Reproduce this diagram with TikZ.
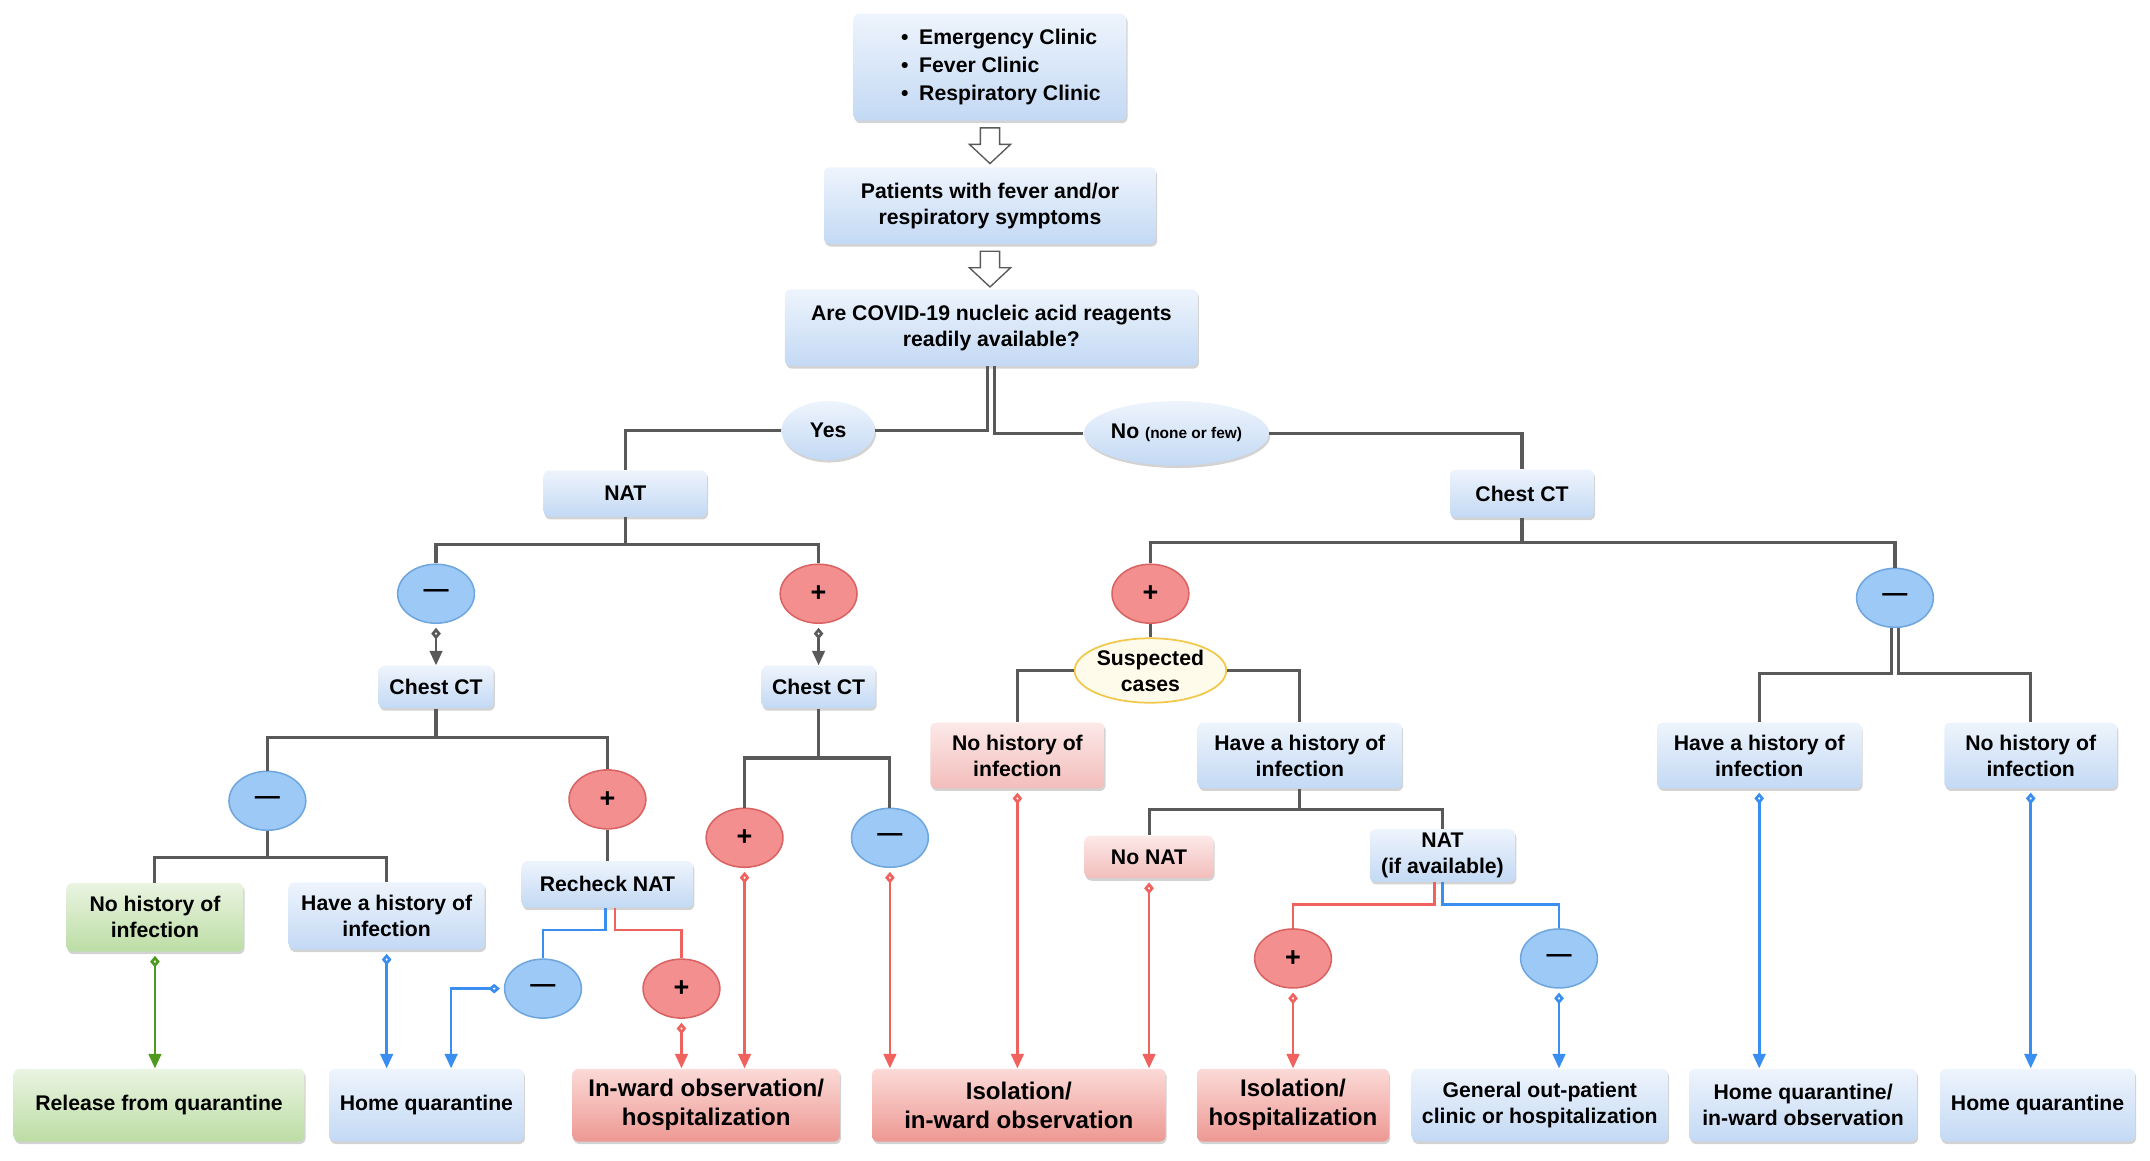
\documentclass[tikz,border=0pt]{standalone}
\usepackage{fontspec}
\setmainfont{Liberation Sans}
\usetikzlibrary{shapes.geometric}
\usetikzlibrary{shadows}
\usetikzlibrary{calc}
\usetikzlibrary{positioning, arrows.meta}

\definecolor{linegray}{HTML}{595959}
\definecolor{bluetop}{HTML}{EEF4FC}
\definecolor{bluemid}{HTML}{D3E3F7}
\definecolor{bluebot}{HTML}{C3D9F4}
\definecolor{redtop}{HTML}{FCE9E8}
\definecolor{redmid}{HTML}{F7D2D0}
\definecolor{redbot}{HTML}{F2BDBB}
\definecolor{darkredtop}{HTML}{FBDAD7}
\definecolor{darkredmid}{HTML}{F2A6A1}
\definecolor{darkredbot}{HTML}{ED9893}
\definecolor{greentop}{HTML}{EAF4E2}
\definecolor{greenmid}{HTML}{CDE6BC}
\definecolor{greenbot}{HTML}{BCDDA4}
\definecolor{negfill}{HTML}{9DC9F7}
\definecolor{negdraw}{HTML}{6FA6DD}
\definecolor{posfill}{HTML}{F48F8F}
\definecolor{posdraw}{HTML}{D96262}
\definecolor{suspfill}{HTML}{FFFBEA}
\definecolor{suspdraw}{HTML}{F2C84B}
\definecolor{arrowblue}{HTML}{3A8EEF}
\definecolor{arrowred}{HTML}{F0625E}
\definecolor{arrowgreen}{HTML}{4E9A1E}

\begin{document}
\begin{tikzpicture}[x=0.025cm, y=-0.025cm, font=\fontsize{11}{13.5}\selectfont\bfseries]
        % Define styles for shapes
        \tikzstyle{box} = [rounded corners=3pt, align=center, inner sep=2pt, drop shadow={shadow xshift=0.6pt, shadow yshift=-1.3pt, opacity=0.35}]
        \tikzstyle{bluebox} = [box, top color=bluetop, middle color=bluemid, bottom color=bluebot]
        \tikzstyle{redbox} = [box, top color=redtop, middle color=redmid, bottom color=redbot]
        \tikzstyle{darkredbox} = [box, top color=darkredtop, middle color=darkredmid, bottom color=darkredbot, font=\fontsize{12.5}{15}\selectfont\bfseries]
        \tikzstyle{greenbox} = [box, top color=greentop, middle color=greenmid, bottom color=greenbot]
        \tikzstyle{endbox} = [minimum height=1.325cm]
        \tikzstyle{answer} = [ellipse, inner sep=0pt, top color=bluetop, bottom color=bluebot, drop shadow={shadow xshift=0.6pt, shadow yshift=-1.3pt, opacity=0.35}]
        \tikzstyle{posnode} = [ellipse, draw=posdraw, fill=posfill, line width=0.8pt, minimum width=1.4cm, minimum height=1.075cm, inner sep=0pt, font=\fontsize{14}{14}\selectfont\bfseries]
        \tikzstyle{negnode} = [ellipse, draw=negdraw, fill=negfill, line width=0.8pt, minimum width=1.4cm, minimum height=1.075cm, inner sep=0pt, font=\fontsize{13}{13}\selectfont\bfseries]
        \tikzstyle{hollow} = [draw=linegray, fill=white, line width=0.7pt, line join=miter]
        \tikzstyle{elbow} = [draw=linegray, line width=1.6pt]
        \tikzstyle{blueline} = [draw=arrowblue, line width=1.4pt]
        \tikzstyle{redline} = [draw=arrowred, line width=1.4pt]
        \tikzstyle{flow} = [line width=1.4pt, shorten <=2pt, arrows={Diamond[open,length=6pt,width=5pt]-Triangle[length=7.5pt,width=6.5pt]}]
        \tikzstyle{grayarrow} = [flow, draw=linegray]
        \tikzstyle{bluearrow} = [flow, draw=arrowblue]
        \tikzstyle{redarrow} = [flow, draw=arrowred]
        \tikzstyle{greenarrow} = [flow, draw=arrowgreen]

        \useasboundingbox (0, 0) rectangle (1568, 846);

        % Draw shapes
        \node[bluebox, minimum width=4.975cm, minimum height=1.95cm, align=left, font=\fontsize{11}{14.5}\selectfont\bfseries] (clinic) at (722, 49) {\hspace*{0.4cm}\textbullet\enspace Emergency Clinic\\ \hspace*{0.4cm}\textbullet\enspace Fever Clinic\\ \hspace*{0.4cm}\textbullet\enspace Respiratory Clinic};
        \node[bluebox, minimum width=6.05cm, minimum height=1.4cm] (patients) at (722, 150) {Patients with fever and/or\\ respiratory symptoms};
        \node[bluebox, minimum width=7.525cm, minimum height=1.4cm] (reagents) at (723, 239) {Are COVID-19 nucleic acid reagents\\ readily available?};

        % hollow arrows between the first boxes
        \draw[hollow] ($(clinic.south)+(-7, 5)$) -- ++(14, 0) -- ++(0, 12) -- ++(8, 0) -- ++(-15, 14) -- ++(-15, -14) -- ++(8, 0) -- cycle;
        \draw[hollow] ($(patients.south)+(-7, 5)$) -- ++(14, 0) -- ++(0, 12) -- ++(8, 0) -- ++(-15, 14) -- ++(-15, -14) -- ++(8, 0) -- cycle;

        \node[answer, minimum width=1.7cm, minimum height=1.075cm] (yes) at (604, 314) {Yes};
        \node[answer, minimum width=2.85cm, minimum height=1.175cm] (no) at (858, 316) {No {\fontsize{8}{9}\selectfont (none or few)}};

        \node[bluebox, minimum width=2.975cm, minimum height=0.85cm] (nat) at (456, 360) {NAT};
        \node[bluebox, minimum width=2.625cm, minimum height=0.875cm] (ctR) at (1110, 360) {Chest CT};

        % NAT branch
        \node[negnode] (natneg) at (318, 433) {---};
        \node[posnode] (natpos) at (597, 433) {+};
        \node[bluebox, minimum width=2.1cm, minimum height=0.775cm] (ctL) at (318, 501) {Chest CT};
        \node[bluebox, minimum width=2.075cm, minimum height=0.775cm] (ctM) at (597, 501) {Chest CT};

        \node[negnode] (ctLneg) at (195, 584) {---};
        \node[posnode] (ctLpos) at (443, 583) {+};
        \node[greenbox, minimum width=3.225cm, minimum height=1.25cm] (nhL) at (113, 669) {No history of\\ infection};
        \node[bluebox, minimum width=3.575cm, minimum height=1.225cm] (hhL) at (282, 668) {Have a history of\\ infection};
        \node[bluebox, minimum width=3.125cm, minimum height=0.85cm] (recheck) at (443, 645) {Recheck NAT};
        \node[negnode] (rnneg) at (396, 721) {---};
        \node[posnode] (rnpos) at (497, 721) {+};

        \node[posnode] (ctMpos) at (543, 611) {+};
        \node[negnode] (ctMneg) at (649, 611) {---};

        % Chest CT branch
        \node[posnode] (ctRpos) at (839, 433) {+};
        \node[negnode] (ctRneg) at (1382, 436) {---};
        \node[ellipse, draw=suspdraw, fill=suspfill, line width=0.9pt, minimum width=2.625cm, minimum height=1.175cm, inner sep=0pt, align=center] (susp) at (839, 489) {Suspected\\ cases};
        \node[redbox, minimum width=3.175cm, minimum height=1.2cm] (nhM) at (742, 551) {No history of\\ infection};
        \node[bluebox, minimum width=3.725cm, minimum height=1.2cm] (hhM) at (948, 551) {Have a history of\\ infection};
        \node[redbox, minimum width=2.35cm, minimum height=0.775cm] (nonat) at (838, 625) {No NAT};
        \node[bluebox, minimum width=2.65cm, minimum height=0.95cm] (natif) at (1052, 624) {NAT\\ (if available)};
        \node[posnode] (natifpos) at (943, 699) {+};
        \node[negnode] (natifneg) at (1137, 699) {---};
        \node[bluebox, minimum width=3.725cm, minimum height=1.2cm] (hhR) at (1283, 551) {Have a history of\\ infection};
        \node[bluebox, minimum width=3.15cm, minimum height=1.2cm] (nhR) at (1481, 551) {No history of\\ infection};

        % Outcomes
        \node[greenbox, endbox, minimum width=5.3cm] (release) at (116, 806) {Release from quarantine};
        \node[bluebox, endbox, minimum width=3.55cm] (homeL) at (311, 806) {Home quarantine};
        \node[darkredbox, endbox, minimum width=4.875cm] (inward) at (515, 806) {In-ward observation/\\ hospitalization};
        \node[darkredbox, endbox, minimum width=5.35cm] (isoward) at (743, 806) {Isolation/\\ in-ward observation};
        \node[darkredbox, endbox, minimum width=3.5cm] (isohosp) at (943, 806) {Isolation/\\ hospitalization};
        \node[bluebox, endbox, minimum width=4.675cm] (general) at (1123, 806) {General out-patient\\ clinic or hospitalization};
        \node[bluebox, endbox, minimum width=4.15cm] (homeward) at (1315, 806) {Home quarantine/\\ in-ward observation};
        \node[bluebox, endbox, minimum width=3.55cm] (homeR) at (1486, 806) {Home quarantine};

        % Draw arrows
        \draw[elbow] ([xshift=-1.8pt]reagents.south) |- (yes.east);
        \draw[elbow] (yes.west) -| (nat.north);
        \draw[elbow] ([xshift=1.8pt]reagents.south) |- (no.west);
        \draw[elbow] (no.east) -| (ctR.north);

        \draw[elbow] (nat.south) -- ++(0, 20) -| (natneg.north);
        \draw[elbow] (nat.south) -- ++(0, 20) -| (natpos.north);
        \draw[grayarrow] (natneg.south) -- (ctL.north);
        \draw[grayarrow] (natpos.south) -- (ctM.north);

        \draw[elbow] (ctL.south) -- ++(0, 21) -| (ctLneg.north);
        \draw[elbow] (ctL.south) -- ++(0, 21) -| (ctLpos.north);
        \draw[elbow] (ctLneg.south) -- ++(0, 19) -| (nhL.north);
        \draw[elbow] (ctLneg.south) -- ++(0, 19) -| (hhL.north);
        \draw[elbow] (ctLpos.south) -- (recheck.north);
        \draw[blueline] ([xshift=-1pt]recheck.south) -- ++(0, 16) -| (rnneg.north);
        \draw[redline] ([xshift=4pt]recheck.south) -- ++(0, 16) -| (rnpos.north);

        \draw[greenarrow] (nhL.south) -- (nhL.south |- release.north);
        \draw[bluearrow] (hhL.south) -- (hhL.south |- homeL.north);
        \draw[bluearrow] (rnneg.west) -| ($(homeL.north)+(18, 0)$);
        \draw[redarrow] (rnpos.south) -- (rnpos.south |- inward.north);

        \draw[elbow] (ctM.south) -- ++(0, 36) -| (ctMpos.north);
        \draw[elbow] (ctM.south) -- ++(0, 36) -| (ctMneg.north);
        \draw[redarrow] (ctMpos.south) -- (ctMpos.south |- inward.north);
        \draw[redarrow] (ctMneg.south) -- (ctMneg.south |- isoward.north);

        \draw[elbow] (ctR.south) -- ++(0, 18) -| (ctRpos.north);
        \draw[elbow] (ctR.south) -- ++(0, 18) -| (ctRneg.north);
        \draw[elbow] (ctRpos.south) -- (susp.north);
        \draw[elbow] (susp.west) -| (nhM.north);
        \draw[elbow] (susp.east) -| (hhM.north);
        \draw[redarrow] (nhM.south) -- (nhM.south |- isoward.north);

        \draw[elbow] (hhM.south) -- ++(0, 15) -| (nonat.north);
        \draw[elbow] (hhM.south) -- ++(0, 15) -| (natif.north);
        \draw[redarrow] (nonat.south) -- (nonat.south |- isoward.north);
        \draw[redline] ([xshift=-4pt]natif.south) -- ++(0, 16) -| (natifpos.north);
        \draw[blueline] (natif.south) -- ++(0, 16) -| (natifneg.north);
        \draw[redarrow] (natifpos.south) -- (natifpos.south |- isohosp.north);
        \draw[bluearrow] (natifneg.south) -- (natifneg.south |- general.north);

        \draw[elbow] ([xshift=-1.8pt]ctRneg.south) -- ++(0, 33) -| (hhR.north);
        \draw[elbow] ([xshift=1.8pt]ctRneg.south) -- ++(0, 33) -| (nhR.north);
        \draw[bluearrow] (hhR.south) -- (hhR.south |- homeward.north);
        \draw[bluearrow] (nhR.south) -- (nhR.south |- homeR.north);
    \end{tikzpicture}
\end{document}
